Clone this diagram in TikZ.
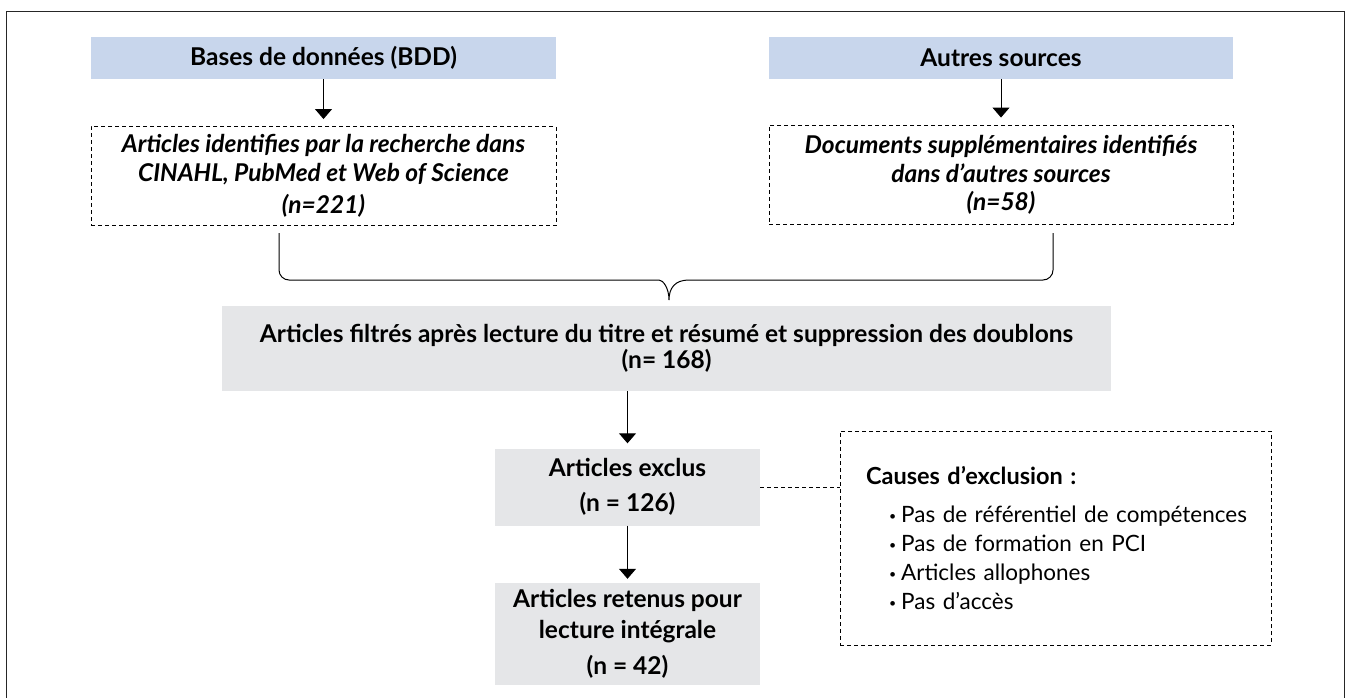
\documentclass[tikz,border=0pt]{standalone}
\usepackage{fontspec}
\setmainfont{Lato}
\usepackage{tikz}
\usetikzlibrary{arrows.meta, positioning, calc}
\definecolor{srcblue}{HTML}{C8D6EC}
\definecolor{stepgray}{HTML}{E5E6E8}
\newcommand{\puce}[1]{\mbox{\hspace{23pt}\raisebox{0.15ex}{\scalebox{0.55}{\textbullet}}\hspace{5pt}#1}}

\begin{document}
\begin{tikzpicture}[
    x=1pt, y=-1pt,
    src/.style={fill=srcblue, minimum height=42pt, inner sep=0pt,
                font=\fontsize{24.5}{29}\selectfont\bfseries},
    ident/.style={draw, line width=0.9pt, dash pattern=on 4pt off 3pt,
                  minimum height=99pt, inner sep=0pt, align=center,
                  font=\fontsize{24.5}{29}\selectfont\bfseries\itshape},
    etape/.style={fill=stepgray, inner sep=0pt, align=center,
                  font=\fontsize{24.5}{29}\selectfont\bfseries},
    causes/.style={draw, line width=0.9pt, dash pattern=on 4pt off 3pt,
                   inner xsep=26pt, inner ysep=0pt, align=left,
                   font=\fontsize{22.5}{29}\selectfont},
    flow/.style={->, line width=1pt},
    >={Triangle[length=10pt, width=17pt]},
]
\useasboundingbox (0,0) rectangle (1346,698);
% --- frame (open at the bottom) ---------------------------------------------
\draw[line width=1pt, black!85] (6,698) |- (1344,12) -- (1344,698);
% --- sources ----------------------------------------------------------------
\node[src, minimum width=465pt] (bdd)   at (323.5,58) {Bases de données (BDD)};
\node[src, minimum width=464pt] (autre) at (1001,58)  {Autres sources};
\node[ident, minimum width=465pt] (art) at (323.5,176)
  {Articles identifies par la recherche dans\\CINAHL, PubMed et Web of Science\\[3pt](n=221)};
\node[ident, minimum width=464pt] (doc) at (1001,174.5)
  {Documents supplémentaires identifiés\\dans d’autres sources\\[-1pt](n=58)};
\draw[flow, shorten >=7pt] (bdd) -- (art);
\draw[flow, shorten >=7pt] (autre) -- (doc);
% --- brace ------------------------------------------------------------------
\coordinate (bl)  at (279,233);
\coordinate (br)  at (1053,233);
\coordinate (tip) at (669,300);
\draw[line width=1pt, rounded corners=10pt] (bl) |- ($(tip)+(-20,-20)$)
  [sharp corners] .. controls ($(tip)+(-6,-20)$) and ($(tip)+(0,-12)$) .. (tip)
  .. controls ($(tip)+(0,-12)$) and ($(tip)+(6,-20)$) .. ($(tip)+(20,-20)$)
  [rounded corners=10pt] -| (br);
% --- screening --------------------------------------------------------------
\node[etape, minimum width=889pt, minimum height=85pt] (filt) at (666.5,348.5)
  {Articles filtrés après lecture du titre et résumé et suppression des doublons\\[-3pt](n= 168)};
\node[etape, minimum width=265pt, minimum height=77pt] (excl) at (627.5,487)
  {Articles exclus\\[6pt](n = 126)};
\node[etape, minimum width=265pt, minimum height=102pt] (ret) at (627.5,634)
  {Articles retenus pour\\[2pt]lecture intégrale\\[7pt](n = 42)};
\draw[flow, shorten >=5pt] (filt.south -| excl.north) -- (excl);
\draw[flow, shorten >=4pt] (excl) -- (ret);
% --- exclusion causes -------------------------------------------------------
\node[causes, text width=379pt, minimum height=214pt] (caus) at (1055.5,538)
  {{\fontsize{23.5}{29}\selectfont\bfseries Causes d’exclusion :}\\[9pt]
   \puce{Pas de référentiel de compétences}\\
   \puce{Pas de formation en PCI}\\
   \puce{Articles allophones}\\
   \puce{Pas d’accès}};
\draw[line width=0.9pt, dash pattern=on 4pt off 3pt] (excl.east) -- (excl.east -| caus.west);
\end{tikzpicture}
\end{document}
